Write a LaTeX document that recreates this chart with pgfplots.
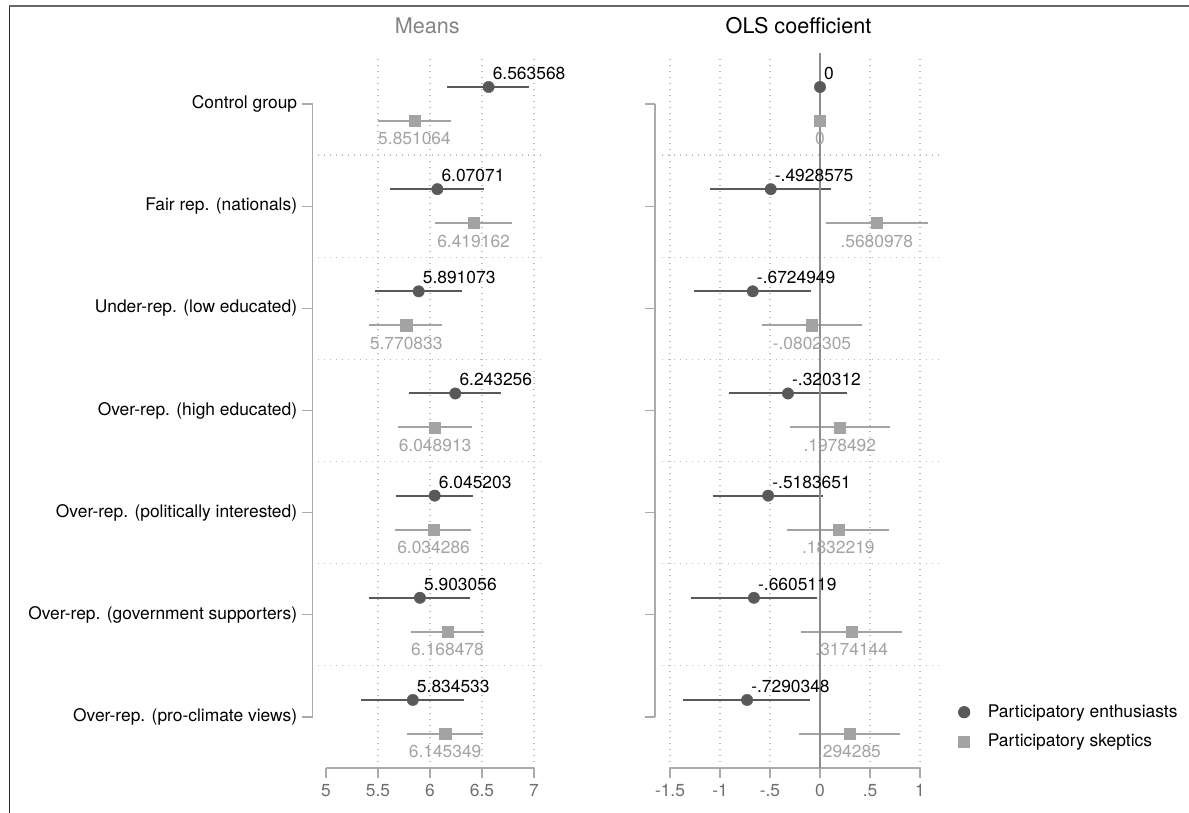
\documentclass[border=0pt]{standalone}
\usepackage{fontspec}
\setmainfont{TeX Gyre Heros}
\usepackage{pgfplots}
\pgfplotsset{compat=1.18}
\usepackage{pgfplotstable}
\definecolor{cdark}{HTML}{595959}
\definecolor{clight}{HTML}{A3A3A3}
\definecolor{axgray}{HTML}{ABABAB}
\definecolor{tickgray}{HTML}{6E6E6E}
\definecolor{gridgray}{HTML}{BDBDBD}
\newcommand\fs{\fontsize{8.7}{10.4}\selectfont}
\newcommand\ft{\fontsize{10.8}{13}\selectfont}

% y  m  em  ep  lab
\pgfplotstableread{
y m em ep lab
-0.834 6.563568 0.404 0.391 6.563568
-1.834 6.07071 0.456 0.449 6.07071
-2.834 5.891073 0.420 0.420 5.891073
-3.834 6.243256 0.442 0.437 6.243256
-4.834 6.045203 0.372 0.372 6.045203
-5.834 5.903056 0.486 0.482 5.903056
-6.834 5.834533 0.497 0.493 5.834533
}\meanE
\pgfplotstableread{
y m em ep lab
-1.166 5.851064 0.354 0.348 5.851064
-2.166 6.419162 0.374 0.369 6.419162
-3.166 5.770833 0.354 0.341 5.770833
-4.166 6.048913 0.353 0.351 6.048913
-5.166 6.034286 0.367 0.360 6.034286
-6.166 6.168478 0.354 0.351 6.168478
-7.166 6.145349 0.369 0.362 6.145349
}\meanS
\pgfplotstableread{
y m em ep lab
-0.834 0 0 0 0
-1.834 -0.4928575 0.607 0.600 -.4928575
-2.834 -0.6724949 0.588 0.582 -.6724949
-3.834 -0.320312 0.590 0.590 -.320312
-4.834 -0.5183651 0.552 0.548 -.5183651
-5.834 -0.6605119 0.630 0.630 -.6605119
-6.834 -0.7290348 0.638 0.629 -.7290348
}\olsE
\pgfplotstableread{
y m em ep lab
-1.166 0 0 0 0
-2.166 0.5680978 0.508 0.512 .5680978
-3.166 -0.0802305 0.500 0.500 -.0802305
-4.166 0.1978492 0.498 0.502 .1978492
-5.166 0.1832219 0.513 0.507 .1832219
-6.166 0.3174144 0.507 0.503 .3174144
-7.166 0.294285 0.504 0.506 .294285
}\olsS

\pgfplotsset{
  common/.style={
    scale only axis, clip=false,
    height=355pt, ymin=-7.5, ymax=-0.55,
    axis line style={draw=none},
    tick pos=left, tick align=outside, major tick length=5pt,
    tick style={color=axgray, line width=0.6pt},
    ytick={-7,-6,-5,-4,-3,-2,-1},
    xticklabel style={font=\fs, text=tickgray, inner sep=0pt, yshift=-3pt},
    yticklabel style={font=\fs, text=black, inner sep=0pt, xshift=-2.5pt},
    title style={at={(0.5,1)}, anchor=base, yshift=6pt, inner sep=0pt, font=\ft},
  },
  eser/.style={forget plot, only marks, mark=*, mark size=2.85pt,
    mark options={fill=cdark, draw=cdark, line width=0.2pt},
    error bars/x dir=both, error bars/x explicit, error bars/error mark=none,
    error bars/error bar style={line width=1pt, color=cdark}},
  sser/.style={forget plot, only marks, mark=square*, mark size=2.8pt,
    mark options={fill=clight, draw=clight, line width=0.2pt},
    error bars/x dir=both, error bars/x explicit, error bars/error mark=none,
    error bars/error bar style={line width=1pt, color=clight}},
  elab/.style={nodes near coords, point meta=explicit symbolic,
    every node near coord/.append style={anchor=base west, xshift=2pt, yshift=3.8pt,
      inner sep=0pt, font=\fs, text=black}},
  slab/.style={nodes near coords, point meta=explicit symbolic,
    every node near coord/.append style={anchor=base, xshift=0pt, yshift=-12pt,
      inner sep=0pt, font=\fs, text=clight}},
}
\tikzset{
  gridl/.style={color=gridgray, line width=0.6pt, dash pattern=on 0.6pt off 2.4pt},
  axl/.style={color=axgray, line width=0.7pt},
}

\begin{document}
\begin{tikzpicture}
\useasboundingbox (0,0) rectangle (594.5pt,406.5pt);
\draw[line width=0.6pt, color=black!85] (4.6pt,0) -- (4.6pt,403.4pt);
\draw[line width=0.7pt, color=black!60] (4.3pt,403.4pt) -- (594.5pt,403.4pt);

% ---------- Means ----------
\begin{axis}[common,
  at={(156.25pt,22.5pt)}, anchor=south west,
  width=114.75pt, xmin=4.87, xmax=7.077,
  xtick={5,5.5,6,6.5,7}, xticklabels={5,5.5,6,6.5,7},
  yticklabels={{Over-rep. (pro-climate views)},{Over-rep. (government supporters)},{Over-rep. (politically interested)},{Over-rep. (high educated)},{Under-rep. (low educated)},{Fair rep. (nationals)},{Control group}},
  title={\textcolor{tickgray!85}{Means}},
]
\pgfplotsinvokeforeach{5.5,6,6.5,7}{\draw[gridl] (axis cs:#1,-7.5) -- (axis cs:#1,-0.55);}
\pgfplotsinvokeforeach{-1.5,-2.5,-3.5,-4.5,-5.5,-6.5}{\draw[gridl] (axis cs:4.923,#1) -- (axis cs:7.077,#1);}
\draw[axl] (axis cs:5,-7.5) -- (axis cs:7,-7.5);
\draw[axl] (axis cs:4.87,-1) -- (axis cs:4.87,-7);
\addplot[eser, elab] table[x=m, y=y, x error minus=em, x error plus=ep, meta=lab] {\meanE};
\addplot[sser, slab] table[x=m, y=y, x error minus=em, x error plus=ep, meta=lab] {\meanS};
\end{axis}

% ---------- OLS ----------
\begin{axis}[common,
  at={(327.5pt,22.5pt)}, anchor=south west,
  width=143.5pt, xmin=-1.65, xmax=1.22,
  xtick={-1.5,-1,-0.5,0,0.5,1}, xticklabels={-1.5,-1,-.5,0,.5,1},
  yticklabels={},
  title={OLS coefficient},
  legend style={draw=none, fill=none, at={(1.056,0.0577)}, anchor=west,
    font=\fs, row sep=3pt, column sep=7pt, inner sep=0pt, cells={anchor=west}},
  legend image code/.code={\draw[#1] plot coordinates {(0pt,0pt)};},
]
\pgfplotsinvokeforeach{-1.5,-1,-0.5,0.5,1}{\draw[gridl] (axis cs:#1,-7.5) -- (axis cs:#1,-0.55);}
\pgfplotsinvokeforeach{-1.5,-2.5,-3.5,-4.5,-5.5,-6.5}{\draw[gridl] (axis cs:-1.58,#1) -- (axis cs:1.22,#1);}
\draw[axl] (axis cs:-1.5,-7.5) -- (axis cs:1,-7.5);
\draw[axl] (axis cs:-1.65,-1) -- (axis cs:-1.65,-7);
\addplot[eser, elab] table[x=m, y=y, x error minus=em, x error plus=ep, meta=lab] {\olsE};
\addplot[sser, slab] table[x=m, y=y, x error minus=em, x error plus=ep, meta=lab] {\olsS};
\draw[color=black!45, line width=0.75pt] (axis cs:0,-7.5) -- (axis cs:0,-0.5);
\addlegendimage{only marks, mark=*, mark size=2.85pt, mark options={fill=cdark, draw=cdark}}
\addlegendentry{Participatory enthusiasts}
\addlegendimage{only marks, mark=square*, mark size=2.8pt, mark options={fill=clight, draw=clight}}
\addlegendentry{Participatory skeptics}
\end{axis}
\end{tikzpicture}
\end{document}
